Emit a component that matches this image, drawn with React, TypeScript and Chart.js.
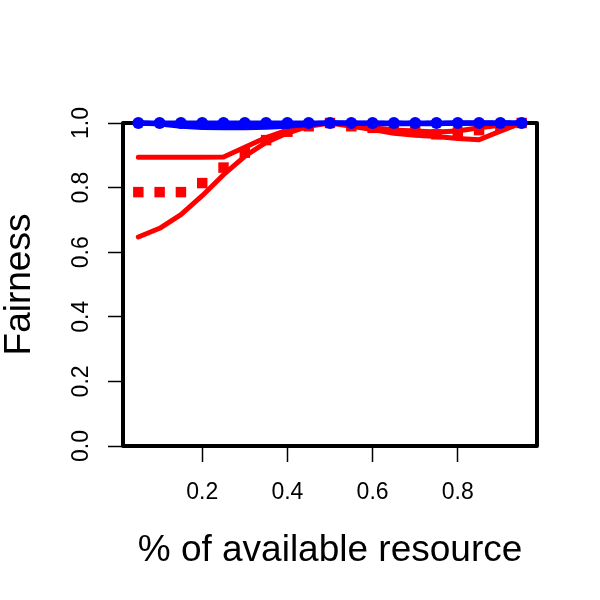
import React, { useEffect, useRef } from "react";
import { Chart, registerables } from "chart.js";

Chart.register(...registerables);

const xValues = [0.05, 0.1, 0.15, 0.2, 0.25, 0.3, 0.35, 0.4, 0.45, 0.5, 0.55, 0.6, 0.65, 0.7, 0.75, 0.8, 0.85, 0.9, 0.95];
const blueDots = [1, 1, 1, 1, 1, 1, 1, 1, 1, 1, 1, 1, 1, 1, 1, 1, 1, 1, 1];
const blueSolid = [1.0, 0.997, 0.99, 0.986, 0.985, 0.985, 0.987, 0.99, 0.995, 1.0, 0.999, 0.998, 0.998, 0.998, 0.998, 0.999, 0.999, 1.0, 1.0];
const blueDashed = [1.0, 0.998, 0.995, 0.992, 0.99, 0.99, 0.992, 0.995, 0.998, 1.0, 0.999, 0.999, 0.999, 0.999, 0.999, 1.0, 1.0, 1.0, 1.0];
const redUpper = [0.894, 0.894, 0.894, 0.894, 0.895, 0.925, 0.955, 0.978, 0.995, 1.0, 0.995, 0.985, 0.978, 0.975, 0.972, 0.975, 0.985, 0.993, 1.0];
const redLower = [0.647, 0.674, 0.716, 0.775, 0.84, 0.897, 0.94, 0.969, 0.99, 1.0, 0.99, 0.98, 0.968, 0.962, 0.958, 0.952, 0.948, 0.975, 1.0];
const redSquares = [0.786, 0.786, 0.786, 0.814, 0.862, 0.908, 0.947, 0.973, 0.99, 1.0, 0.99, 0.985, 0.98, 0.975, 0.965, 0.97, 0.978, 0.99, 1.0];

const xTicks = [0.2, 0.4, 0.6, 0.8];
const yTicks = [0, 0.2, 0.4, 0.6, 0.8, 1.0];

const xTitle = "% of available resource";
const yTitle = "Fairness";

const FONT = "'Liberation Sans', Arial, Helvetica, sans-serif";

const toPoints = (ys: number[]) => xValues.map((x, i) => ({ x, y: ys[i] }));

const boxPlugin = {
  id: "rbox",
  beforeDatasetsDraw(chart: any) {
    const { ctx, chartArea } = chart;
    ctx.save();
    ctx.strokeStyle = "#000";
    ctx.lineWidth = 4;
    ctx.lineJoin = "round";
    ctx.strokeRect(chartArea.left, chartArea.top, chartArea.right - chartArea.left, chartArea.bottom - chartArea.top);
    ctx.restore();
  },
};

export default function App() {
  const ref = useRef<HTMLCanvasElement | null>(null);

  useEffect(() => {
    if (!ref.current) return;
    const chart = new Chart(ref.current, {
      type: "line",
      data: {
        datasets: [
          {
            label: "blueDots",
            data: toPoints(blueDots),
            borderColor: "#0000FF",
            backgroundColor: "#0000FF",
            borderWidth: 5,
            pointRadius: 6,
            pointBorderWidth: 0,
            pointBackgroundColor: "#0000FF",
            clip: false,
          },
          {
            label: "blueSolid",
            data: toPoints(blueSolid),
            borderColor: "#0000FF",
            borderWidth: 5,
            pointRadius: 0,
            clip: false,
          },
          {
            label: "blueDashed",
            data: toPoints(blueDashed),
            borderColor: "#0000FF",
            borderWidth: 5,
            borderDash: [12, 6],
            pointRadius: 0,
            clip: false,
          },
          {
            label: "redSquares",
            data: toPoints(redSquares),
            borderColor: "#FF0000",
            backgroundColor: "#FF0000",
            showLine: false,
            pointStyle: "rect",
            pointRadius: 7.4,
            pointBorderWidth: 0,
            pointBackgroundColor: "#FF0000",
            clip: false,
          },
          {
            label: "redUpper",
            data: toPoints(redUpper),
            borderColor: "#FF0000",
            borderWidth: 5,
            pointRadius: 0,
            clip: false,
          },
          {
            label: "redLower",
            data: toPoints(redLower),
            borderColor: "#FF0000",
            borderWidth: 5,
            pointRadius: 0,
            clip: false,
          },
        ],
      },
      options: {
        animation: false,
        responsive: false,
        devicePixelRatio: 1,
        layout: { padding: { left: 0, top: 123, right: 63, bottom: 0 } },
        plugins: { legend: { display: false }, tooltip: { enabled: false } },
        elements: { line: { tension: 0, borderCapStyle: "round", borderJoinStyle: "round" } },
        scales: {
          x: {
            type: "linear",
            min: 0.014,
            max: 0.986,
            afterBuildTicks: (scale: any) => {
              scale.ticks = xTicks.map((v) => ({ value: v }));
            },
            afterFit: (scale: any) => {
              scale.height = 154;
            },
            border: { display: false },
            grid: {
              drawOnChartArea: false,
              drawTicks: true,
              tickLength: 16,
              tickColor: "#000",
              tickWidth: 1.5,
            },
            ticks: {
              color: "#000",
              font: { family: FONT, size: 23 },
              padding: 17,
              maxRotation: 0,
              minRotation: 0,
              callback: (v: any) => Number(v).toFixed(1),
            },
            title: {
              display: true,
              text: xTitle,
              color: "#000",
              font: { family: FONT, size: 37, lineHeight: 1 },
              padding: { top: 0, bottom: 31 },
            },
          },
          y: {
            type: "linear",
            min: 0,
            max: 1,
            afterBuildTicks: (scale: any) => {
              scale.ticks = yTicks.map((v) => ({ value: v }));
            },
            afterFit: (scale: any) => {
              scale.width = 123;
            },
            border: { display: false },
            grid: {
              drawOnChartArea: false,
              drawTicks: true,
              tickLength: 15,
              tickColor: "#000",
              tickWidth: 1.5,
            },
            ticks: {
              color: "#000",
              font: { family: FONT, size: 23 },
              padding: 10,
              minRotation: 90,
              maxRotation: 90,
              crossAlign: "center",
              callback: (v: any) => Number(v).toFixed(1),
            },
            title: {
              display: true,
              text: yTitle,
              color: "#000",
              font: { family: FONT, size: 37, lineHeight: 1 },
              padding: { top: 1, bottom: 0 },
            },
          },
        },
      },
      plugins: [boxPlugin],
    } as any);
    return () => chart.destroy();
  }, []);

  return (
    <div style={{ position: "fixed", left: 0, top: 0, width: 600, height: 600, background: "#fff" }}>
      <canvas ref={ref} width={600} height={600} style={{ width: 600, height: 600 }} />
    </div>
  );
}
